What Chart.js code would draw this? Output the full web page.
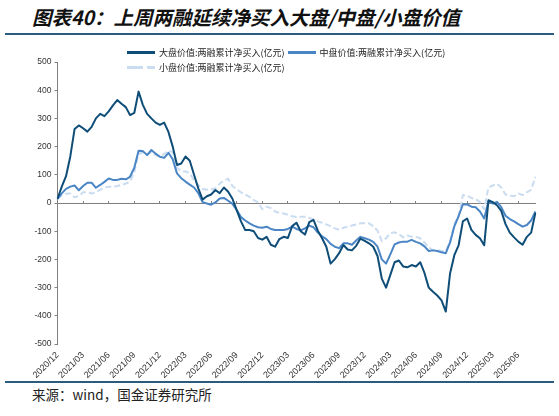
<!DOCTYPE html>
<html>
<head>
<meta charset="utf-8">
<script src="https://cdn.jsdelivr.net/npm/chart.js@4.4.1/dist/chart.umd.min.js"></script>
<style>
body { margin: 0; width: 559px; height: 416px; background: #fff; position: relative; overflow: hidden; font-family: "Noto Sans CJK SC", sans-serif; }
#title { position: absolute; left: 32px; top: 5px; font-size: 19.5px; font-weight: bold; font-style: italic; color: #111; white-space: nowrap; line-height: 24px; }
.rule { position: absolute; left: 5px; width: 549px; height: 2px; background: #2b5c80; }
#chart { position: absolute; left: 0; top: 40px; }
#legend { position: absolute; left: 127px; top: 44.6px; width: 330px; display: flex; flex-wrap: wrap; column-gap: 3px; z-index: 2; }
.item { display: flex; align-items: center; height: 15.4px; font-size: 9px; color: #222; white-space: nowrap; }
.swatch { width: 28px; height: 3px; margin-right: 4px; }
#source { position: absolute; left: 32px; top: 384px; font-size: 13.5px; color: #222; }
</style>
</head>
<body>
<div id="title">图表40：上周两融延续净买入大盘/中盘/小盘价值</div>
<div class="rule" style="top:33px"></div>
<canvas id="chart" width="559" height="340"></canvas>
<div id="legend"></div>
<div class="rule" style="top:381px"></div>
<div id="source">来源：wind，国金证券研究所</div>
<script>
const quarterLabels = ['2020/12', '2021/03', '2021/06', '2021/09', '2021/12', '2022/03', '2022/06', '2022/09', '2022/12',
  '2023/03', '2023/06', '2023/09', '2023/12', '2024/03', '2024/06', '2024/09', '2024/12', '2025/03', '2025/06'];

const seriesNames = ['大盘价值:两融累计净买入(亿元)', '中盘价值:两融累计净买入(亿元)', '小盘价值:两融累计净买入(亿元)'];

// half-monthly readings, starting 2020/12
const largeCap = [15, 58, 95, 165, 262, 275, 265, 253, 270, 300,
  316, 308, 325, 346, 365, 352, 340, 312, 320, 395,
  348, 316, 300, 285, 277, 285, 252, 200, 135, 140,
  165, 150, 100, 52, 12, 24, 30, 46, 35, 55,
  40, 15, -25, -65, -96, -96, -100, -124, -130, -120,
  -148, -155, -128, -120, -124, -82, -70, -100, -112, -68,
  -60, -98, -125, -155, -215, -199, -178, -149, -165, -168,
  -152, -126, -134, -143, -155, -188, -268, -300, -255, -210,
  -204, -225, -228, -220, -225, -210, -248, -300, -315, -328,
  -345, -385, -250, -185, -150, -65, -55, -95, -113, -125,
  -150, 10, 3, -8, -28, -75, -105, -122, -137, -148,
  -120, -105, -35];

const midCap = [15, 34, 50, 58, 62, 45, 60, 72, 72, 54,
  64, 75, 87, 82, 82, 86, 84, 93, 125, 185,
  184, 170, 188, 175, 164, 160, 178, 155, 105, 88,
  76, 65, 55, 35, 3, -2, -6, 2, 16, 18,
  8, -3, -25, -50, -62, -72, -80, -86, -88, -84,
  -92, -96, -96, -96, -92, -84, -92, -97, -90, -80,
  -86, -105, -118, -128, -145, -155, -160, -143, -143, -148,
  -133, -120, -125, -130, -138, -155, -200, -215, -182, -147,
  -140, -137, -137, -131, -138, -143, -154, -170, -168, -170,
  -175, -178, -140, -83, -47, -5, -5, -13, -15, -30,
  -55, 5, -2, 4, -15, -45, -57, -65, -75, -84,
  -78, -62, -30];

const smallCap = [15, 27, 33, 34, 20, 25, 38, 38, 34, 38,
  47, 54, 58, 58, 60, 64, 69, 76, 110, 175,
  178, 172, 180, 170, 164, 174, 186, 180, 125, 112,
  112, 106, 80, 64, 50, 47, 48, 52, 68, 80,
  86, 60, 48, 38, 30, 22, 10, 2, -22, -13,
  -18, -30, -35, -37, -42, -47, -50, -49, -49, -53,
  -59, -65, -70, -76, -82, -90, -95, -88, -84, -80,
  -76, -72, -72, -72, -82, -98, -135, -125, -107, -104,
  -110, -122, -115, -120, -120, -125, -140, -158, -167, -167,
  -170, -170, -137, -75, -45, 28, 26, 18, 14, 3,
  -22, 55, 62, 68, 55, 30, 26, 24, 34, 28,
  38, 47, 93];

const dates = [];
for (let i = 0; i < largeCap.length; i++) {
  const m = 11 + Math.floor(i / 2);
  const y = 2020 + Math.floor(m / 12);
  dates.push(y + '/' + String(m % 12 + 1).padStart(2, '0') + (i % 2 ? '-16' : '-01'));
}

Chart.defaults.font.family = '"Liberation Sans", Arial, sans-serif';
const axisGray = '#808080';
const lastIdx = largeCap.length - 1;

const chart = new Chart(document.getElementById('chart'), {
  type: 'line',
  data: {
    labels: dates,
    datasets: [
      { label: seriesNames[0], data: largeCap, borderColor: '#0e4d78', borderWidth: 2 },
      { label: seriesNames[1], data: midCap, borderColor: '#4a86c6', borderWidth: 2 },
      { label: seriesNames[2], data: smallCap, borderColor: '#c9dcf0', borderWidth: 2, borderDash: [6, 3] }
    ]
  },
  options: {
    responsive: false,
    animation: false,
    layout: { padding: { top: 22, right: 23.6, left: 0, bottom: 0 } },
    elements: { point: { radius: 0 }, line: { tension: 0, borderJoinStyle: 'round' } },
    plugins: { legend: { display: false }, tooltip: { enabled: false } },
    scales: {
      x: { type: 'category', display: false },
      // zero line with quarter tick marks
      x0: {
        axis: 'x', type: 'linear', position: { y: 0 }, min: 0, max: lastIdx,
        ticks: { display: false, stepSize: 6, includeBounds: false },
        grid: { drawOnChartArea: false, tickLength: -3, color: axisGray },
        border: { color: axisGray }
      },
      // quarter labels along the bottom
      xl: {
        axis: 'x', type: 'linear', position: 'bottom', min: 0, max: lastIdx,
        afterFit: s => { s.height = 36; },
        ticks: {
          stepSize: 6, includeBounds: false,
          callback: (v, i) => quarterLabels[i], autoSkip: false, minRotation: 45, maxRotation: 45,
          padding: 6, font: { size: 9 }, color: '#333'
        },
        grid: { display: false, drawTicks: false },
        border: { display: false }
      },
      y: {
        min: -500, max: 500,
        afterFit: s => { s.width = 57.5; },
        ticks: { stepSize: 100, font: { size: 8.5 }, color: '#333', padding: 3 },
        grid: { drawOnChartArea: false, tickLength: 3, color: axisGray },
        border: { color: axisGray }
      }
    }
  }
});

// legend in two rows like the original
const legendBox = document.getElementById('legend');
chart.data.datasets.forEach(ds => {
  const item = document.createElement('div');
  item.className = 'item';
  const sw = document.createElement('span');
  sw.className = 'swatch';
  sw.style.background = ds.borderDash
    ? `linear-gradient(to right, ${ds.borderColor} 0 16px, transparent 16px 20px, ${ds.borderColor} 20px)`
    : ds.borderColor;
  const txt = document.createElement('span');
  txt.textContent = ds.label;
  item.appendChild(sw);
  item.appendChild(txt);
  legendBox.appendChild(item);
});
</script>
</body>
</html>
